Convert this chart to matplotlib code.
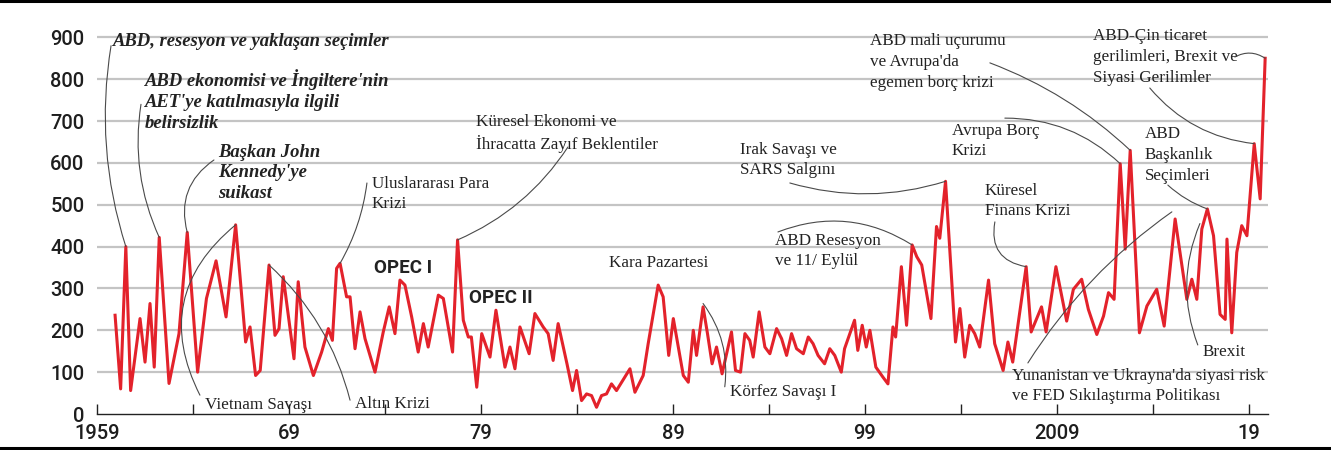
import matplotlib.pyplot as plt
from matplotlib.lines import Line2D

# Uncertainty index (turning points, decimal years)
years = [1959.94, 1960.23, 1960.50, 1960.75, 1961.24, 1961.50, 1961.76, 1961.98,
         1962.24, 1962.75, 1963.27, 1963.70, 1964.24, 1964.70, 1965.20, 1965.72,
         1966.22, 1966.74, 1966.97, 1967.26, 1967.50, 1967.96, 1968.27, 1968.48,
         1968.70, 1969.26, 1969.48, 1969.83, 1970.27, 1970.70, 1971.05, 1971.26,
         1971.48, 1971.66, 1972.00, 1972.18, 1972.44, 1972.70, 1972.96, 1973.48,
         1973.91, 1974.22, 1974.52, 1974.78, 1975.04, 1975.39, 1975.73, 1976.00,
         1976.25, 1976.78, 1977.04, 1977.52, 1977.78, 1978.08, 1978.34, 1978.50,
         1978.78, 1979.04, 1979.47, 1979.78, 1980.25, 1980.51, 1980.77, 1981.03,
         1981.51, 1981.81, 1982.24, 1982.50, 1982.76, 1983.02, 1983.48, 1983.77,
         1983.98, 1984.24, 1984.50, 1984.76, 1985.02, 1985.28, 1985.54, 1985.80,
         1986.06, 1986.76, 1987.02, 1987.45, 1987.71, 1988.23, 1988.49, 1988.78,
         1989.02, 1989.54, 1989.80, 1990.06, 1990.23, 1990.57, 1990.80, 1991.04,
         1991.27, 1991.56, 1992.05, 1992.26, 1992.52, 1992.75, 1993.00, 1993.18,
         1993.49, 1993.79, 1994.05, 1994.40, 1994.66, 1994.92, 1995.18, 1995.44,
         1995.79, 1996.05, 1996.30, 1996.56, 1996.90, 1997.17, 1997.43, 1997.77,
         1997.94, 1998.46, 1998.63, 1998.86, 1999.07, 1999.26, 1999.57, 1999.94,
         2000.20, 2000.46, 2000.60, 2000.90, 2001.17, 2001.46, 2001.70, 2001.96,
         2002.44, 2002.73, 2002.90, 2003.20, 2003.72, 2003.95, 2004.20, 2004.46,
         2004.72, 2004.98, 2005.44, 2005.76, 2006.20, 2006.45, 2006.70, 2007.40,
         2007.66, 2008.20, 2008.44, 2008.95, 2009.51, 2009.86, 2010.29, 2010.64,
         2011.08, 2011.43, 2011.69, 2011.98, 2012.30, 2012.56, 2012.82, 2013.30,
         2013.69, 2014.20, 2014.59, 2015.16, 2015.77, 2016.03, 2016.29, 2016.55,
         2016.84, 2017.16, 2017.50, 2017.77, 2017.86, 2018.11, 2018.37, 2018.63,
         2018.90, 2019.28, 2019.59, 2019.85]
values = [236, 60, 400, 56, 228, 124, 264, 112,
          422, 73, 192, 434, 100, 276, 366, 232,
          452, 172, 208, 92, 104, 356, 188, 204,
          328, 132, 316, 160, 92, 148, 204, 176,
          348, 360, 280, 280, 156, 244, 180, 100,
          196, 256, 192, 320, 308, 232, 148, 216,
          160, 284, 276, 148, 416, 224, 184, 184,
          64, 192, 136, 248, 112, 160, 108, 208,
          144, 240, 208, 192, 128, 216, 120, 56,
          104, 32, 48, 44, 16, 44, 48, 72,
          56, 108, 52, 92, 168, 308, 280, 140,
          228, 92, 76, 200, 140, 256, 192, 120,
          160, 96, 196, 104, 100, 192, 176, 136,
          244, 160, 144, 204, 180, 140, 192, 156,
          144, 184, 168, 140, 120, 156, 140, 100,
          156, 224, 152, 212, 160, 200, 112, 88,
          72, 208, 184, 352, 212, 404, 376, 356,
          228, 448, 420, 556, 172, 252, 136, 212,
          192, 160, 320, 168, 104, 172, 124, 352,
          196, 256, 196, 352, 222, 298, 322, 250,
          190, 234, 290, 274, 598, 394, 630, 194,
          258, 298, 210, 466, 274, 322, 274, 442,
          490, 426, 238, 226, 418, 194, 386, 450,
          426, 646, 514, 850]

tick_years = [1959, 1969, 1979, 1989, 1999, 2009, 2019]
tick_labels = ['1959', '69', '79', '89', '99', '2009', '19']
y_ticks = [0, 100, 200, 300, 400, 500, 600, 700, 800, 900]

serif = 'Liberation Serif'
sans = 'Roboto'
lead = dict(arrowstyle='-', color='#4a4a4a', lw=0.8, shrinkA=0, shrinkB=0)

fig = plt.figure(figsize=(13.31, 4.5), dpi=100)
ax = fig.add_axes([0.0729, 0.08, 0.8798, 0.8556])

# grid
for v in y_ticks[1:]:
    ax.axhline(v, color='#c4c4c4', lw=1.6, zorder=0)

ax.plot(years, values, color='#e3222b', lw=2.2, zorder=3)

ax.set_xlim(1959, 2020)
ax.set_ylim(0, 920)
for s in ['top', 'right', 'left']:
    ax.spines[s].set_visible(False)
ax.spines['bottom'].set_color('#222222')
ax.spines['bottom'].set_linewidth(1.0)

ax.set_xticks(tick_years)
ax.set_xticklabels(tick_labels)
ax.set_xticks([y + 5 for y in tick_years[:-1]], minor=True)
ax.tick_params(axis='x', which='both', direction='in', length=7, width=1, color='#222222', pad=7)
ax.set_yticks(y_ticks)
ax.tick_params(axis='y', length=0, pad=9)
for lab in ax.get_xticklabels() + ax.get_yticklabels():
    lab.set_family(sans)
    lab.set_fontsize(14.5)
    lab.set_fontweight('medium')
    lab.set_color('#1e1e1e')

bi = dict(family=serif, fontsize=13.4, fontweight='bold', style='italic', color='#222222',
          ha='left', va='center', linespacing=1.3)
rg = dict(family=serif, fontsize=12.3, color='#222222', ha='left', va='center', linespacing=1.38)
op = dict(family=sans, fontsize=13.5, fontweight='bold', color='#222222', ha='center', va='center')

# annotation texts
ax.text(1959.83, 889, 'ABD, resesyon ve yaklaşan seçimler', **bi)
ax.text(1961.5, 748, "ABD ekonomisi ve İngiltere'nin\nAET'ye katılmasıyla ilgili\nbelirsizlik", **bi)
ax.text(1965.3, 576, "Başkan John\nKennedy'ye\nsuikast", **bi)
ax.text(1964.63, 22, 'Vietnam Savaşı', **rg)
ax.text(1972.44, 24, 'Altın Krizi', **rg)
ax.text(1973.32, 526, 'Uluslararası Para\nKrizi', **rg)
ax.text(1974.94, 349, 'OPEC I', **op)
ax.text(1980.04, 277, 'OPEC II', **op)
ax.text(1978.74, 671, 'Küresel Ekonomi ve\nİhracatta Zayıf Beklentiler', **rg)
ax.text(1988.27, 361, 'Kara Pazartesi', **dict(rg, ha='center'))
ax.text(1991.97, 53, 'Körfez Savaşı I', **rg)
ax.text(1994.31, 389, 'ABD Resesyon\nve 11/ Eylül', **rg)
ax.text(1992.49, 607, 'Irak Savaşı ve\nSARS Salgını', **rg)
ax.text(1999.26, 841, "ABD mali uçurumu\nve Avrupa'da\negemen borç krizi", **rg)
ax.text(2003.53, 652, 'Avrupa Borç\nKrizi', **rg)
ax.text(2005.25, 509, 'Küresel\nFinans Krizi', **rg)
ax.text(2013.58, 619, 'ABD\nBaşkanlık\nSeçimleri', **rg)
ax.text(2010.88, 853, 'ABD-Çin ticaret\ngerilimleri, Brexit ve\nSiyasi Gerilimler', **rg)
ax.text(2016.6, 148, 'Brexit', **rg)
ax.text(2006.66, 67, "Yunanistan ve Ukrayna'da siyasi risk\nve FED Sıkılaştırma Politikası", **rg)

# leader lines: (start, end, curvature)
leaders = [((1959.73, 880), (1960.5, 400), 0.12),
           ((1961.29, 740), (1962.24, 422), 0.15),
           ((1965.09, 607), (1963.7, 434), 0.35),
           ((1964.36, 45), (1966.22, 452), -0.4),
           ((1972.18, 33), (1967.96, 356), 0.15),
           ((1973.06, 552), (1971.66, 360), -0.1),
           ((1983.53, 638), (1977.78, 416), -0.15),
           ((1991.7, 65), (1990.57, 264), 0.2),
           ((1994.47, 435), (2001.46, 404), -0.25),
           ((1995.09, 552), (2003.2, 556), 0.15),
           ((2005.51, 839), (2012.82, 630), -0.1),
           ((2006.29, 707), (2012.3, 598), -0.2),
           ((2005.77, 459), (2007.4, 352), 0.5),
           ((2014.78, 547), (2016.84, 490), 0.1),
           ((2018.27, 853), (2019.85, 850), -0.3),
           ((2013.84, 779), (2019.28, 646), 0.2),
           ((2016.34, 165), (2016.45, 455), -0.2),
           ((2007.49, 122), (2014.99, 483), -0.1)]
for start, end, rad in leaders:
    ax.annotate('', xy=end, xytext=start,
                arrowprops=dict(lead, connectionstyle=f'arc3,rad={rad}'), zorder=4)

# top and bottom rules
fig.add_artist(Line2D([0, 1], [0.997, 0.997], color='black', lw=2.2))
fig.add_artist(Line2D([0, 1], [0.005, 0.005], color='black', lw=2.2))

fig.savefig('out.png', dpi=100)
